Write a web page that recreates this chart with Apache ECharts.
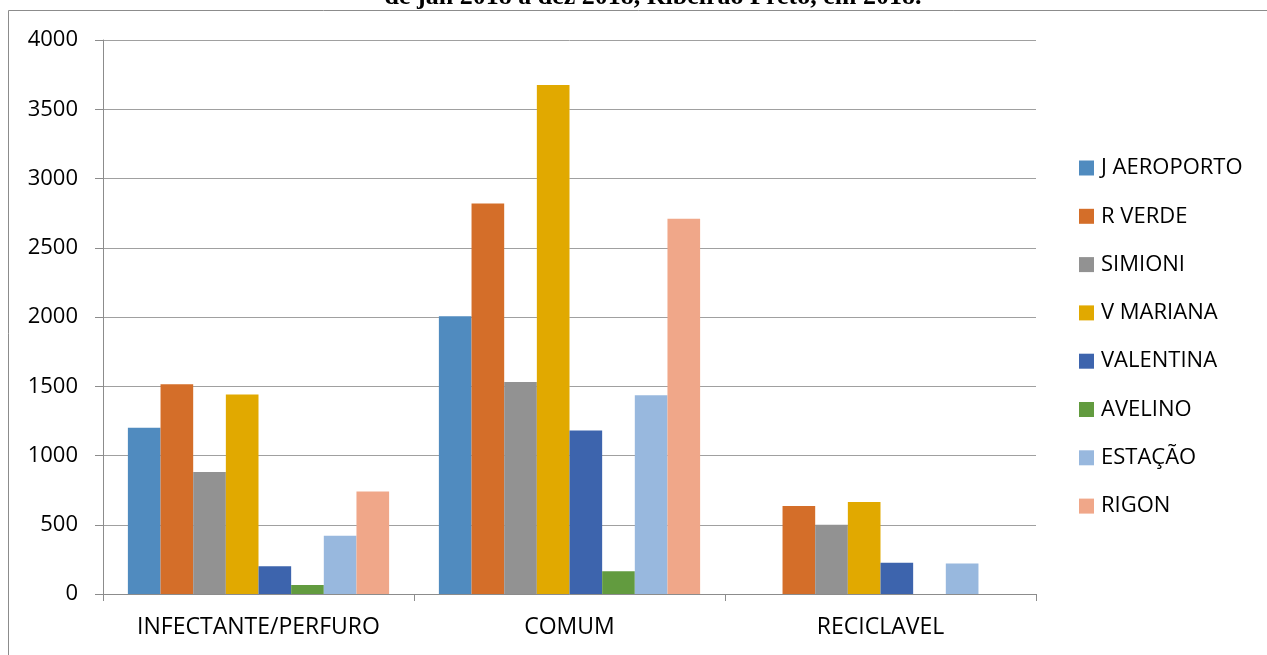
<!DOCTYPE html>
<html>
<head>
<meta charset="utf-8">
<script src="https://cdn.jsdelivr.net/npm/echarts@6/dist/echarts.min.js"></script>
<style>
  html, body { margin: 0; padding: 0; background: #fff; }
  #chart { width: 1267px; height: 655px; }
</style>
</head>
<body>
<div id="chart"></div>
<script>
// categorias e séries
var categorias = ['INFECTANTE/PERFURO', 'COMUM', 'RECICLAVEL'];
var nomes = ['J AEROPORTO', 'R VERDE', 'SIMIONI', 'V MARIANA', 'VALENTINA', 'AVELINO', 'ESTAÇÃO', 'RIGON'];
var cores = ['#508bbf', '#d46e29', '#929292', '#e1a900', '#3d64ad', '#629b3f', '#98b8de', '#f0a789'];

var jAeroporto = [1200, 2005, 0];
var rVerde = [1515, 2820, 635];
var simioni = [880, 1530, 500];
var vMariana = [1440, 3675, 665];
var valentina = [200, 1180, 225];
var avelino = [65, 165, 0];
var estacao = [420, 1435, 220];
var rigon = [740, 2710, 0];

var yTicks = [0, 500, 1000, 1500, 2000, 2500, 3000, 3500, 4000];

var valores = [jAeroporto, rVerde, simioni, vMariana, valentina, avelino, estacao, rigon];

var myChart = echarts.init(document.getElementById('chart'));
var fonte = 'Open Sans';

var series = [];
nomes.forEach(function (nome, i) {
    series.push({
        name: nome,
        type: 'bar',
        data: valores[i],
        barGap: '0%',
        barCategoryGap: '16%',
        itemStyle: { color: cores[i] }
    });
});

var option = {
    animation: false,
    backgroundColor: '#fff',
    title: {
        text: 'de jan 2018 a dez 2018, Ribeirão Preto, em 2018.',
        left: 648,
        textAlign: 'center',
        top: -21,
        textStyle: {
            fontFamily: 'Liberation Serif',
            fontWeight: 'bold',
            fontSize: 26,
            color: '#000'
        }
    },
    graphic: [{
        type: 'rect',
        shape: { x: 8.5, y: 10.5, width: 1300, height: 700 },
        style: { fill: null, stroke: '#8c8c8c', lineWidth: 1 },
        z: -1
    }],
    grid: { left: 103, right: 231, top: 40, bottom: 61 },
    legend: {
        orient: 'vertical',
        left: 1079,
        top: 157,
        padding: 0,
        itemWidth: 15,
        itemHeight: 15,
        itemGap: 26.3,
        icon: 'rect',
        textStyle: { fontFamily: fonte, fontSize: 22, color: '#000', padding: [0, 0, 0, 2] },
        data: nomes
    },
    xAxis: {
        type: 'category',
        data: categorias,
        axisLine: { lineStyle: { color: '#8c8c8c', width: 1 } },
        axisTick: { show: true, length: 7, interval: 0, lineStyle: { color: '#8c8c8c' } },
        axisLabel: { fontFamily: fonte, fontSize: 23, color: '#000', margin: 22, interval: 0 }
    },
    yAxis: {
        type: 'value',
        min: 0,
        max: 4000,
        interval: 500,
        axisLine: { show: true, lineStyle: { color: '#8c8c8c', width: 1 } },
        axisTick: { show: true, length: 8, lineStyle: { color: '#8c8c8c' } },
        splitLine: { lineStyle: { color: '#a0a0a0', width: 1 } },
        axisLabel: {
            fontFamily: fonte, fontSize: 22, color: '#000', margin: 25,
            formatter: function (v) { return yTicks.indexOf(v) >= 0 ? String(v) : ''; }
        }
    },
    series: series
};
myChart.setOption(option);
</script>
</body>
</html>
